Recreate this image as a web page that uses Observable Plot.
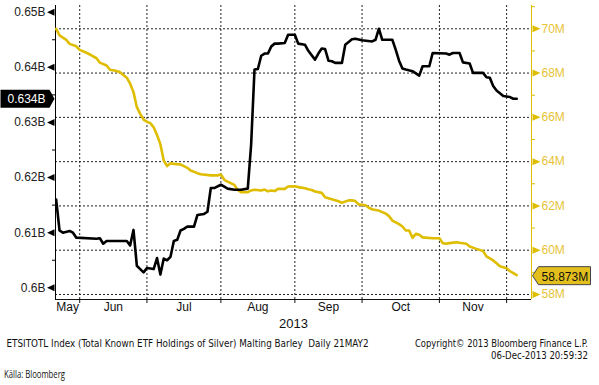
<!DOCTYPE html>
<html><head><meta charset="utf-8">
<script src="https://cdn.jsdelivr.net/npm/d3@7"></script>
<script src="https://cdn.jsdelivr.net/npm/@observablehq/plot@0.6"></script>
<style>
html,body{margin:0;padding:0;background:#fff;}
#chart{width:599px;height:385px;overflow:hidden;}
</style></head><body><div id="chart"></div>
<script>
// x = trading-day index (0 = first trading day of June 2013)
const MONTH_LABELS = ["May","Jun","Jul","Aug","Sep","Oct","Nov"];
const MONTH_STARTS = [0, 20, 42, 64, 84, 107, 127]; // Jun..Dec first trading days
const YEAR_LABEL = "2013";

const LEFT_TICKS = [0.60, 0.61, 0.62, 0.63, 0.64, 0.65];
const LEFT_TICK_LABELS = ["0.6B","0.61B","0.62B","0.63B","0.64B","0.65B"];
const LEFT_MINOR = [0.605, 0.615, 0.625, 0.635, 0.645];
const RIGHT_TICKS = [58, 60, 62, 64, 66, 68, 70];
const RIGHT_TICK_LABELS = ["58M","60M","62M","64M","66M","68M","70M"];
const RIGHT_MINOR = [59, 61, 63, 65, 67, 69, 71];

// ETSITOTL Index (black, left axis, in B)
const BLACK_DAY = [-7,-6,-5,-3,-2,-1,5,6,7,8,14,15,16,17,18,19,20,22,23,24,25,26,27,28,29,30,31,32,34,35,37,38,39,40,42,44,46,48,50,51,52,53,54,55,56,57,58,59,61,62,64,65,67,68,70,71,72,73,74,75,76,78,79,80,81,82,84,87,88,89,90,93,94,95,96,97,99,101,102,104,105,109,110,111,113,114,116,117,120,121,122,123,124,125,126,128,129,130];
const BLACK_VAL = [0.6160,0.6104,0.6100,0.6103,0.6100,0.6091,0.6089,0.6090,0.6080,0.6085,0.6085,0.6077,0.6105,0.6040,0.6034,0.6028,0.6036,0.6034,0.6054,0.6024,0.6053,0.6050,0.6056,0.6085,0.6087,0.6104,0.6107,0.6111,0.6111,0.6132,0.6134,0.6138,0.6181,0.6181,0.6187,0.6180,0.6178,0.6178,0.6180,0.6260,0.6396,0.6397,0.6421,0.6425,0.6425,0.6438,0.6443,0.6443,0.6444,0.6459,0.6459,0.6443,0.6441,0.6430,0.6414,0.6425,0.6434,0.6433,0.6412,0.6411,0.6408,0.6408,0.6441,0.6446,0.6451,0.6452,0.6449,0.6447,0.6450,0.6470,0.6450,0.6450,0.6432,0.6412,0.6398,0.6396,0.6393,0.6385,0.6402,0.6402,0.6426,0.6425,0.6423,0.6426,0.6426,0.6409,0.6407,0.6390,0.6390,0.6382,0.6381,0.6366,0.6358,0.6353,0.6348,0.6346,0.6343,0.6343];

// Malting Barley (yellow, right axis, in M)
const YELLOW_DAY = [-7,-6,-4,-3,-1,0,2,3,5,6,8,9,11,12,14,15,16,17,18,19,20,21,22,23,24,25,26,27,28,30,31,32,33,35,36,39,41,42,43,44,46,47,48,50,51,52,54,55,56,57,58,59,61,62,64,65,67,68,69,70,72,73,75,77,78,80,81,82,83,85,86,87,88,89,90,91,92,93,94,95,96,97,98,99,100,101,102,105,107,108,109,110,112,113,115,116,118,120,121,123,124,125,127,128,129,130];
const YELLOW_VAL = [70.00,69.70,69.50,69.32,69.21,69.05,68.92,68.84,68.67,68.47,68.34,68.15,68.09,68.04,67.79,67.52,67.14,66.46,66.16,65.90,65.80,65.74,65.55,65.20,64.79,64.05,63.80,63.93,63.90,63.87,63.80,63.72,63.60,63.48,63.43,63.38,63.38,63.42,63.18,63.10,62.95,62.72,62.62,62.62,62.70,62.73,62.70,62.74,62.66,62.70,62.67,62.77,62.77,62.88,62.89,62.85,62.80,62.75,62.72,62.65,62.59,62.39,62.30,62.21,62.14,62.25,62.25,62.22,62.07,62.03,61.92,61.85,61.82,61.79,61.72,61.66,61.54,61.34,61.26,61.18,61.07,60.89,60.89,60.56,60.74,60.70,60.58,60.54,60.54,60.32,60.29,60.32,60.36,60.34,60.29,60.17,60.06,59.96,59.72,59.54,59.41,59.28,59.19,59.05,58.96,58.873];

const FOOTER_LEFT = "ETSITOTL Index (Total Known ETF Holdings of Silver) Malting Barley  Daily 21MAY2";
const FOOTER_RIGHT_1 = "Copyright\u00A9 2013 Bloomberg Finance L.P.";
const FOOTER_RIGHT_2 = "06-Dec-2013 20:59:32";
const SOURCE = "K\u00E4lla: Bloomberg";

// scales
const X_DOMAIN = [-7.2, 134.4];
const Y_DOMAIN = [57.774, 71.052];      // right axis (M)
const L_DOMAIN = [0.59788, 0.651216];   // left axis (B), mapped onto the same frame
const toY = v => Y_DOMAIN[0] + (v - L_DOMAIN[0]) / (L_DOMAIN[1] - L_DOMAIN[0]) * (Y_DOMAIN[1] - Y_DOMAIN[0]);

const black = BLACK_DAY.map((d, i) => ({day: d, u: toY(BLACK_VAL[i])}));
const yellow = YELLOW_DAY.map((d, i) => ({day: d, u: YELLOW_VAL[i]}));
const bounds = [X_DOMAIN[0], ...MONTH_STARTS];
const monthMid = MONTH_LABELS.map((m, i) => (bounds[i] + bounds[i + 1]) / 2);

const leftLabelByU = new Map(LEFT_TICKS.map((v, i) => [toY(v), LEFT_TICK_LABELS[i]]));
const rightLabelByU = new Map(RIGHT_TICKS.map((v, i) => [v, RIGHT_TICK_LABELS[i]]));

const YELLOW = "#dfbd00";
const arrowLeft = {draw(c){c.moveTo(-1,-3.5);c.lineTo(-8.5,0);c.lineTo(-1,3.5);c.closePath();}};
const arrowRight = {draw(c){c.moveTo(1,-3.5);c.lineTo(9,0);c.lineTo(1,3.5);c.closePath();}};
const badgeLeft = {draw(c){c.moveTo(-55,-9);c.lineTo(-6,-9);c.lineTo(-1,0);c.lineTo(-6,9);c.lineTo(-55,9);c.closePath();}};
const badgeRight = {draw(c){c.moveTo(1,0.5);c.lineTo(7,-8.5);c.lineTo(59,-8.5);c.lineTo(59,9.5);c.lineTo(7,9.5);c.closePath();}};

const lastBlack = BLACK_VAL[BLACK_VAL.length - 1];
const lastYellow = YELLOW_VAL[YELLOW_VAL.length - 1];

const chart = Plot.plot({
  width: 599, height: 385,
  marginTop: 5, marginBottom: 86, marginLeft: 55, marginRight: 68,
  x: {domain: X_DOMAIN},
  y: {domain: Y_DOMAIN},
  style: {fontFamily: "'Liberation Sans', Arial, sans-serif", fontSize: "12px", background: "#fff", overflow: "visible"},
  marks: [
    Plot.ruleY(RIGHT_TICKS, {stroke: "#222", strokeDasharray: "2,2"}),
    Plot.ruleX(MONTH_STARTS, {stroke: "#222", strokeDasharray: "2,2"}),
    Plot.ruleY([Y_DOMAIN[0]], {stroke: "#111"}),
    Plot.ruleX([X_DOMAIN[0]], {stroke: "#000"}),
    Plot.ruleX([X_DOMAIN[1]], {stroke: YELLOW}),
    Plot.axisX({ticks: MONTH_STARTS, tickSize: 4, tickFormat: () => "", stroke: "#111", label: null}),
    Plot.text(MONTH_LABELS, {x: (d, i) => monthMid[i], frameAnchor: "bottom", dy: 11, fill: "#111", text: d => d}),
    Plot.text([YEAR_LABEL], {frameAnchor: "bottom", dy: 28, fill: "#111", fontSize: 13, text: d => d}),
    // left axis
    Plot.axisY({anchor: "left", ticks: LEFT_TICKS.map(toY), tickSize: 0, tickPadding: 10, tickFormat: u => leftLabelByU.get(u), fill: "#222", label: null}),
    Plot.axisY({anchor: "left", ticks: LEFT_MINOR.map(toY), tickSize: 3, tickFormat: () => "", stroke: "#000", label: null}),
    Plot.dot(LEFT_TICKS, {x: X_DOMAIN[0], y: d => toY(d), symbol: arrowLeft, fill: "#000", stroke: "none"}),
    // right axis
    Plot.axisY({anchor: "right", ticks: RIGHT_TICKS, tickSize: 0, tickPadding: 10, tickFormat: u => rightLabelByU.get(u), fill: "#e6c336", label: null}),
    Plot.axisY({anchor: "right", ticks: RIGHT_MINOR, tickSize: 3, tickFormat: () => "", stroke: YELLOW, label: null}),
    Plot.dot(RIGHT_TICKS, {x: X_DOMAIN[1], y: d => d, symbol: arrowRight, fill: YELLOW, stroke: "none"}),
    // series
    Plot.line(yellow, {x: "day", y: "u", stroke: YELLOW, strokeWidth: 2.6, strokeLinejoin: "round"}),
    Plot.line(black, {x: "day", y: "u", stroke: "#000", strokeWidth: 2.6, strokeLinejoin: "round"}),
    // last value badges
    Plot.dot([lastBlack], {x: X_DOMAIN[0], y: d => toY(d), symbol: badgeLeft, fill: "#000", stroke: "none"}),
    Plot.text([lastBlack], {x: X_DOMAIN[0], y: d => toY(d), dx: -10, dy: 0.5, textAnchor: "end", fill: "#fff", text: d => d.toFixed(3) + "B"}),
    Plot.dot([lastYellow], {x: X_DOMAIN[1], y: d => d, symbol: badgeRight, fill: "#e3bf1d", stroke: "#444", strokeWidth: 1}),
    Plot.text([lastYellow], {x: X_DOMAIN[1], y: d => d, dx: 10, dy: 1.5, textAnchor: "start", fill: "#111", text: d => d.toFixed(3) + "M"})
  ]
});
document.getElementById("chart").appendChild(chart);

const svg = d3.select(chart);
function foot(txt, x, y, anchor, len, family, size) {
  svg.append("text").attr("x", x).attr("y", y).attr("dy", "0.35em")
    .attr("text-anchor", anchor).attr("textLength", len).attr("lengthAdjust", "spacingAndGlyphs")
    .style("font-family", family).style("font-size", size + "px").style("white-space", "pre")
    .attr("fill", "#111").text(txt);
}
foot(FOOTER_LEFT, 6.5, 343, "start", 362, "'DejaVu Sans Condensed', 'DejaVu Sans', sans-serif", 10);
foot(FOOTER_RIGHT_1, 588, 343, "end", 173, "'DejaVu Sans Condensed', 'DejaVu Sans', sans-serif", 10);
foot(FOOTER_RIGHT_2, 588, 355, "end", 97, "'DejaVu Sans Condensed', 'DejaVu Sans', sans-serif", 10);
foot(SOURCE, 4, 374, "start", 61, "'Open Sans', sans-serif", 10);
</script></body></html>
